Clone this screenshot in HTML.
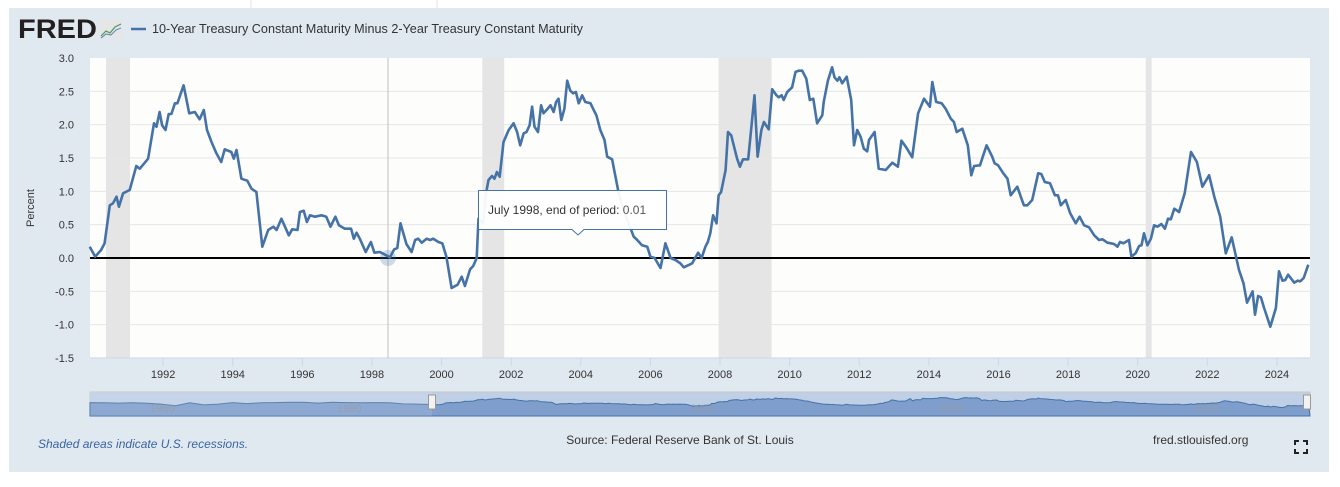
<!DOCTYPE html>
<html><head><meta charset="utf-8"><style>
body{margin:0;background:#fff;width:1340px;height:482px;overflow:hidden;font-family:"Liberation Sans",sans-serif;}
svg text{font-family:"Liberation Sans",sans-serif;}
</style></head><body>
<svg width="1340" height="482">
<line x1="251" y1="0" x2="251" y2="8" stroke="#e6e6e6"/>
<line x1="437" y1="0" x2="437" y2="8" stroke="#e6e6e6"/>
<rect x="9" y="8" width="1320" height="464" fill="#e1e9f0"/>
<text x="18" y="38" font-size="27" font-weight="bold" fill="#231f20" textLength="79" lengthAdjust="spacingAndGlyphs">FRED</text>
<g>
<rect x="99" y="20" width="24" height="19" fill="#e6e6e6"/>
<polyline points="101,36 106,31 110,33 115,27 121,24" fill="none" stroke="#4a9a5a" stroke-width="1.2"/>
<polyline points="101,38 106,34 111,35 116,30 121,28" fill="none" stroke="#6b8fc4" stroke-width="1.2"/>
</g>
<line x1="131" y1="29" x2="146" y2="29" stroke="#4572a7" stroke-width="2.5"/>
<text x="152" y="33" font-size="12.5" fill="#333" textLength="431" lengthAdjust="spacingAndGlyphs">10-Year Treasury Constant Maturity Minus 2-Year Treasury Constant Maturity</text>
<rect x="90" y="58" width="1220" height="300" fill="#fdfdfb"/>
<g id="rec"></g><g id="grid"></g><g id="yt"></g><g id="xt"></g>
<text transform="translate(34,208) rotate(-90)" font-size="11" fill="#333" text-anchor="middle">Percent</text>
<line x1="388" y1="58" x2="388" y2="358" stroke="#c0c0c0"/>
<g id="ser"></g>
<circle cx="388" cy="258" r="8" fill="#4572a7" fill-opacity="0.25"/>
<g>
<path d="M478.5,190.5 H666.5 V229.5 H584 L578,235 L572,229.5 H478.5 Z" fill="#fff" fill-opacity="0.95" stroke="#4572a7"/>
<text x="488" y="214" font-size="12" fill="#333"><tspan>July 1998, end of period: </tspan><tspan fill="#555">0.01</tspan></text>
</g>
<g id="nav"></g>
<text x="38" y="448" font-size="12" font-style="italic" fill="#3a64a3">Shaded areas indicate U.S. recessions.</text>
<text x="680" y="444" font-size="12" fill="#333" text-anchor="middle">Source: Federal Reserve Bank of St. Louis</text>
<text x="1153" y="444" font-size="12" fill="#333">fred.stlouisfed.org</text>
<g stroke="#222" stroke-width="2" fill="none">
<path d="M1295,445 v-4 h4 M1303,441 h4 v4 M1307,449 v4 h-4 M1299,453 h-4 v-4"/>
</g>
</svg>
<script>
const dates=[1989.89,1990.05,1990.22,1990.32,1990.47,1990.56,1990.66,1990.73,1990.85,1991.04,1991.23,1991.33,1991.57,1991.74,1991.81,1991.90,1991.97,1992.07,1992.16,1992.24,1992.34,1992.41,1992.59,1992.75,1992.91,1993.05,1993.17,1993.26,1993.39,1993.53,1993.67,1993.77,1993.96,1994.03,1994.11,1994.25,1994.42,1994.54,1994.68,1994.85,1995.02,1995.17,1995.26,1995.40,1995.61,1995.71,1995.86,1995.93,1996.04,1996.13,1996.22,1996.36,1996.55,1996.69,1996.81,1996.95,1997.05,1997.22,1997.40,1997.48,1997.56,1997.65,1997.82,1997.97,1998.07,1998.23,1998.52,1998.64,1998.73,1998.82,1998.99,1999.14,1999.24,1999.33,1999.43,1999.57,1999.67,1999.76,1999.91,2000.02,2000.14,2000.29,2000.46,2000.58,2000.67,2000.82,2000.91,2001.01,2001.06,2001.20,2001.26,2001.35,2001.45,2001.52,2001.59,2001.67,2001.78,2001.93,2002.07,2002.17,2002.26,2002.36,2002.44,2002.53,2002.60,2002.67,2002.77,2002.86,2002.93,2003.05,2003.13,2003.22,2003.29,2003.36,2003.44,2003.53,2003.61,2003.70,2003.78,2003.86,2003.94,2004.04,2004.13,2004.28,2004.37,2004.45,2004.56,2004.68,2004.76,2004.90,2004.99,2005.09,2005.23,2005.41,2005.52,2005.62,2005.76,2005.91,2006.00,2006.12,2006.29,2006.43,2006.58,2006.72,2006.86,2006.96,2007.12,2007.20,2007.37,2007.47,2007.58,2007.65,2007.72,2007.80,2007.90,2007.96,2008.03,2008.16,2008.23,2008.32,2008.49,2008.57,2008.66,2008.81,2008.99,2009.08,2009.19,2009.26,2009.40,2009.50,2009.62,2009.69,2009.77,2009.83,2009.93,2010.07,2010.17,2010.26,2010.36,2010.48,2010.58,2010.68,2010.79,2010.94,2010.98,2011.10,2011.22,2011.29,2011.37,2011.43,2011.51,2011.64,2011.77,2011.85,2011.94,2012.04,2012.13,2012.23,2012.28,2012.44,2012.56,2012.76,2012.95,2013.11,2013.21,2013.35,2013.52,2013.69,2013.86,2014.03,2014.10,2014.21,2014.37,2014.48,2014.63,2014.72,2014.80,2014.96,2015.12,2015.22,2015.30,2015.47,2015.55,2015.66,2015.82,2015.89,2015.99,2016.14,2016.26,2016.35,2016.54,2016.64,2016.73,2016.83,2016.97,2017.14,2017.23,2017.33,2017.48,2017.62,2017.71,2017.79,2017.93,2018.06,2018.22,2018.33,2018.46,2018.60,2018.75,2018.89,2018.99,2019.13,2019.23,2019.32,2019.42,2019.49,2019.59,2019.75,2019.82,2019.94,2020.04,2020.11,2020.18,2020.28,2020.38,2020.47,2020.57,2020.68,2020.78,2020.87,2020.95,2021.05,2021.19,2021.35,2021.53,2021.70,2021.86,2022.05,2022.20,2022.37,2022.53,2022.70,2022.91,2023.04,2023.14,2023.30,2023.37,2023.46,2023.54,2023.63,2023.81,2023.97,2024.06,2024.16,2024.24,2024.32,2024.50,2024.59,2024.67,2024.77,2024.90];
const values=[0.17,0.02,0.12,0.22,0.79,0.82,0.92,0.77,0.97,1.02,1.38,1.34,1.49,2.02,1.97,2.19,1.99,1.92,2.16,2.16,2.32,2.32,2.59,2.17,2.19,2.08,2.22,1.92,1.74,1.57,1.44,1.63,1.59,1.49,1.62,1.19,1.16,1.04,0.99,0.17,0.42,0.47,0.42,0.59,0.34,0.43,0.42,0.69,0.71,0.54,0.64,0.62,0.64,0.62,0.47,0.62,0.49,0.44,0.44,0.29,0.38,0.29,0.09,0.24,0.08,0.09,0.01,0.13,0.15,0.52,0.21,0.09,0.27,0.29,0.23,0.29,0.27,0.29,0.24,0.22,0.02,-0.45,-0.40,-0.28,-0.42,-0.17,-0.12,0.0,0.59,0.52,0.92,1.17,1.23,1.19,1.29,1.22,1.74,1.92,2.02,1.89,1.69,1.87,1.89,1.99,2.27,1.97,1.89,2.29,2.17,2.24,2.29,2.19,2.34,2.39,2.07,2.24,2.66,2.51,2.47,2.49,2.32,2.44,2.34,2.32,2.22,2.14,1.92,1.77,1.52,1.48,1.24,0.97,0.72,0.47,0.32,0.27,0.19,0.17,0.02,0.0,-0.15,0.22,0.0,-0.03,-0.08,-0.14,-0.10,-0.08,0.08,0.0,0.17,0.24,0.37,0.64,0.52,0.94,0.99,1.32,1.89,1.84,1.49,1.37,1.48,1.48,2.44,1.52,1.92,2.04,1.93,2.53,2.44,2.41,2.44,2.37,2.49,2.56,2.79,2.81,2.81,2.69,2.37,2.39,2.02,2.14,2.34,2.66,2.86,2.71,2.66,2.71,2.62,2.72,2.37,1.69,1.92,1.82,1.64,1.60,1.77,1.89,1.34,1.32,1.43,1.37,1.76,1.66,1.51,2.17,2.39,2.27,2.64,2.34,2.32,2.24,2.09,2.04,1.89,1.94,1.69,1.24,1.38,1.39,1.52,1.69,1.52,1.42,1.39,1.27,1.19,0.94,1.07,0.92,0.79,0.79,0.87,1.27,1.26,1.14,1.12,0.94,0.94,0.79,0.87,0.67,0.52,0.62,0.49,0.46,0.34,0.27,0.28,0.23,0.22,0.21,0.17,0.24,0.22,0.27,0.02,0.07,0.18,0.19,0.37,0.19,0.29,0.49,0.47,0.51,0.44,0.59,0.58,0.74,0.69,0.97,1.59,1.44,1.07,1.24,0.92,0.62,0.07,0.31,-0.18,-0.38,-0.67,-0.50,-0.85,-0.57,-0.59,-0.75,-1.03,-0.75,-0.20,-0.34,-0.33,-0.25,-0.37,-0.34,-0.35,-0.30,-0.10,0.14];
const recStart=[1990.36,2001.17,2007.96,2020.23];
const recEnd=[1991.05,2001.8,2009.48,2020.4];
const yTicks=[3.0,2.5,2.0,1.5,1.0,0.5,0.0,-0.5,-1.0,-1.5];
const yTickLabels=["3.0","2.5","2.0","1.5","1.0","0.5","0.0","-0.5","-1.0","-1.5"];
const xTicks=[1992,1994,1996,1998,2000,2002,2004,2006,2008,2010,2012,2014,2016,2018,2020,2022,2024];
const navPre=[0.9,0.8,0.7,0.8,0.6,0.3,-0.3,0.8,0.0,0.3,0.9,0.5,0.8,0.9,1.0,1.0,0.7,1.0,0.9,0.8,0.9,0.8,0.4,0.3];
const NS="http://www.w3.org/2000/svg";
const X0=1989.9,X1=2024.95,PL=90,PR=1310,PT=58,PB=358;
const xs=d=>PL+(d-X0)/(X1-X0)*(PR-PL);
const ys=v=>PT+(3.0-v)/4.5*(PB-PT);
function mk(t,a,p){const e=document.createElementNS(NS,t);for(const k in a)e.setAttribute(k,a[k]);document.getElementById(p).appendChild(e);return e;}
recStart.forEach((s,i)=>{const e=mk('rect',{x:xs(s),y:PT,width:xs(recEnd[i])-xs(s),height:PB-PT,fill:'#e5e5e5'},'rec');

});
yTicks.forEach((v,i)=>{
 if(v!==0&&v!==3.0&&v!==-1.5){const g=mk('line',{x1:PL,x2:PR,y1:ys(v),y2:ys(v),stroke:'#e6e6e6'},'grid');
 
 }
 const t=mk('text',{x:74,y:ys(v)+4,'font-size':11,fill:'#333','text-anchor':'end'},'yt');t.textContent=yTickLabels[i];
 
 });
const bl=mk('line',{x1:PL,x2:PR,y1:PB,y2:PB,stroke:'#ccd6eb'},'grid');


xTicks.forEach(y=>{const x=xs(y);
 const l=mk('line',{x1:x,x2:x,y1:PB,y2:PB+8,stroke:'#ccd6eb'},'xt');
 
 
 const t=mk('text',{x:x,y:378,'font-size':11,fill:'#333','text-anchor':'middle'},'xt');t.textContent=y;
 
 });
const z=mk('line',{x1:PL,x2:PR,y1:ys(0),y2:ys(0),stroke:'#000','stroke-width':2},'ser');


const pts=dates.map((d,i)=>xs(d).toFixed(1)+','+ys(values[i]).toFixed(1)).join(' ');
const ln=mk('polyline',{points:pts,fill:'none',stroke:'#4572a7','stroke-width':2.6,'stroke-linejoin':'round'},'ser');


const NT=392,NB=416,HX=432;
const nbg=mk('rect',{x:PL,y:NT,width:PR-PL,height:NB-NT,fill:'#bfcfe6',stroke:'#c8c8c8'},'nav');


const nv=v=>NT+9+(1.5-v)*2.6;
let np=[];
navPre.forEach((v,i)=>np.push([PL+i*(HX-PL)/(navPre.length),nv(v)]));
dates.forEach((d,i)=>np.push([HX+(d-X0)/(X1-X0)*(PR-HX),nv(values[i])]));
let dpath='M'+PL+','+NB+' '+np.map(p=>'L'+p[0].toFixed(1)+','+p[1].toFixed(1)).join(' ')+' L'+PR+','+NB+' Z';
const na=mk('path',{d:dpath,fill:'#7f9ecb',stroke:'#4572a7','stroke-width':1},'nav');


const mask=mk('rect',{x:PL,y:NT,width:HX-PL,height:NB-NT,fill:'#ffffff','fill-opacity':0.12},'nav');


[[HX,'navigator-handle-left'],[PR-3,'navigator-handle-right']].forEach(h=>{
 const r=mk('rect',{x:h[0]-3.5,y:395,width:7,height:14,fill:'#f2f2f2',stroke:'#999'},'nav');
 
 });
[[150,'1980'],[337,'1990'],[690,'2000'],[940,'2010'],[1195,'2020']].forEach(a=>{
 const t=mk('text',{x:a[0],y:412,'font-size':11,fill:'#999','fill-opacity':0.6},'nav');t.textContent=a[1];
 
 });
</script>
</body></html>
